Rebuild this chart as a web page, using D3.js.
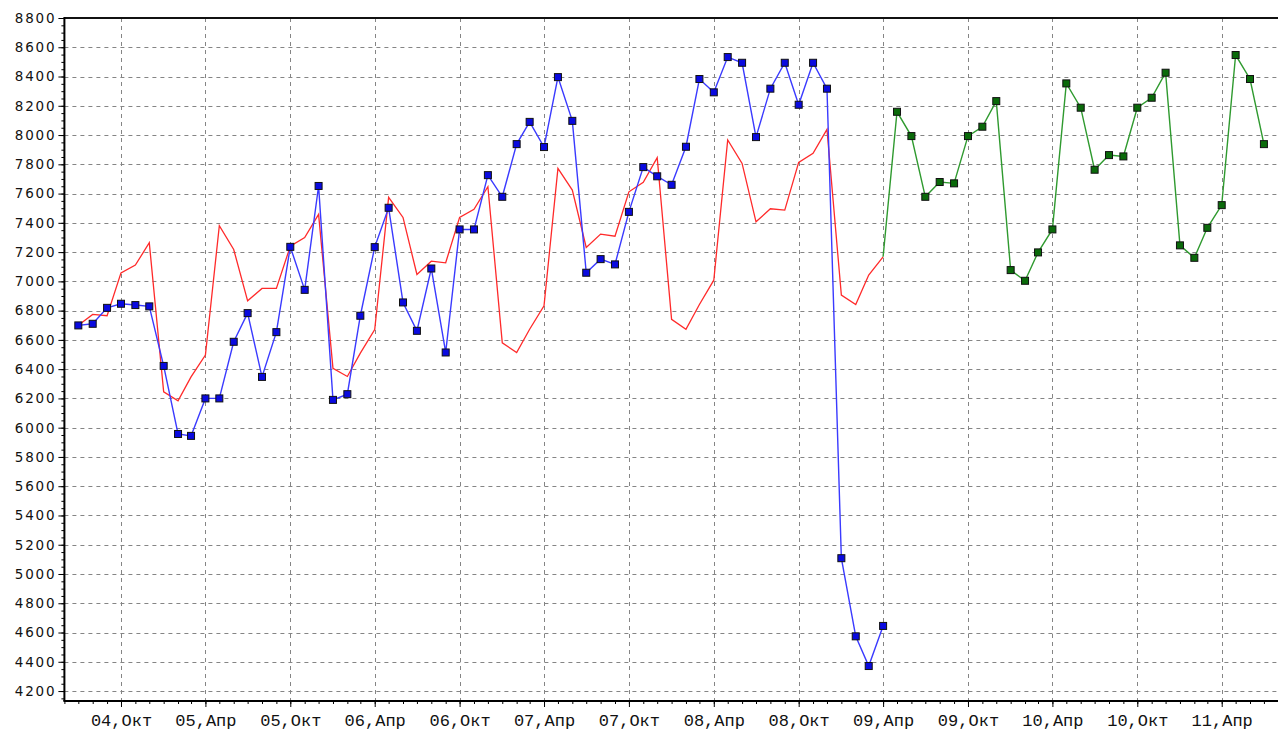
<!DOCTYPE html>
<html>
<head>
<meta charset="utf-8">
<script src="https://cdn.jsdelivr.net/npm/d3@7"></script>
<style>
  html, body { margin: 0; padding: 0; background: #fff; }
  svg { display: block; }
</style>
</head>
<body>
<div id="chart"></div>
<script>
// monthly values, first of month
var blueStart = [2004, 6];   // Jul 2004
var blueValues = [6699, 6710, 6819, 6847, 6838, 6829,
  6422, 5957, 5944, 6200, 6200, 6587, 6783, 6347, 6653, 7236, 6942, 7652,
  6190, 6229, 6765, 7234, 7503, 6856, 6662, 7088, 6514, 7355, 7355, 7726,
  7578, 7938, 8090, 7918, 8396, 8097, 7059, 7152, 7116, 7475, 7781, 7718,
  7660, 7920, 8383, 8292, 8533, 8494, 7986, 8317, 8494, 8207, 8494, 8317,
  5108, 4574, 4371, 4645];

var redStart = [2004, 6];    // Jul 2004
var redValues = [6700, 6774, 6765, 7058, 7111, 7264,
  6245, 6183, 6347, 6496, 7380, 7218, 6867, 6952, 6952, 7240, 7300, 7458,
  6405, 6350, 6510, 6670, 7574, 7437, 7047, 7138, 7127, 7437, 7492, 7647,
  6580, 6514, 6673, 6833, 7772, 7624, 7232, 7323, 7309, 7612, 7677, 7845,
  6740, 6673, 6842, 7008, 7966, 7806, 7407, 7496, 7487, 7813, 7875, 8039,
  6906, 6842, 7043, 7168];

var greenStart = [2009, 4];  // May 2009
var greenValues = [8159, 7993, 7578, 7679, 7670, 7993, 8057, 8232,
  7077, 7004, 7198, 7355, 8353, 8187, 7763, 7863, 7854, 8187, 8255, 8426,
  7246, 7161, 7366, 7521, 8547, 8383, 7938];

var monthNames = ["Янв", "Фев", "Мар", "Апр", "Май", "Июн", "Июл", "Авг", "Сен", "Окт", "Ноя", "Дек"];
var yTicks = d3.range(4200, 8801, 200);

function series(start, values) {
  return values.map(function(v, i) {
    return { date: new Date(start[0], start[1] + i, 1), value: v };
  });
}

var blue = series(blueStart, blueValues);
var red = series(redStart, redValues);
var green = series(greenStart, greenValues);

var width = 1278, height = 735;
var plotLeft = 64.4, plotTop = 18, plotBottom = 701;

var x = d3.scaleTime()
  .domain([new Date(2004, 5, 1), new Date(2011, 7, 1)])
  .range([plotLeft, 1278.3]);
var y = d3.scaleLinear()
  .domain([4132, 8800])
  .range([plotBottom, plotTop]);

var svg = d3.select("#chart").append("svg")
  .attr("width", width)
  .attr("height", height);

var months = d3.timeMonth.range(x.domain()[0], new Date(2011, 8, 1));
var tickDates = months.filter(function(d) { return d.getMonth() === 3 || d.getMonth() === 9; });

/* grid */
var grid = svg.append("g")
  .attr("stroke", "#858585")
  .attr("stroke-width", 1)
  .attr("stroke-dasharray", "4,4");
grid.selectAll(".hg").data(yTicks.filter(function(v) { return v < 8800; }))
  .enter().append("line")
  .attr("x1", plotLeft).attr("x2", width)
  .attr("y1", function(d) { return Math.round(y(d)) + 0.5; })
  .attr("y2", function(d) { return Math.round(y(d)) + 0.5; });
grid.selectAll(".vg").data(tickDates)
  .enter().append("line")
  .attr("x1", function(d) { return Math.round(x(d)) + 0.5; })
  .attr("x2", function(d) { return Math.round(x(d)) + 0.5; })
  .attr("y1", plotTop).attr("y2", plotBottom);

/* top border */
svg.append("line")
  .attr("x1", plotLeft).attr("x2", width)
  .attr("y1", plotTop).attr("y2", plotTop)
  .attr("stroke", "#111").attr("stroke-width", 2);

/* lines */
var line = d3.line()
  .x(function(d) { return x(d.date); })
  .y(function(d) { return y(d.value); });

svg.append("path").datum(red)
  .attr("fill", "none").attr("stroke", "#ff2a2a").attr("stroke-width", 1.3)
  .attr("d", line);

svg.append("path").datum(blue)
  .attr("fill", "none").attr("stroke", "#3a3aff").attr("stroke-width", 1.4)
  .attr("d", line);

// green continues from the last red point
svg.append("path").datum([red[red.length - 1]].concat(green))
  .attr("fill", "none").attr("stroke", "#2f9a2f").attr("stroke-width", 1.4)
  .attr("d", line);

function markers(data, fill) {
  svg.append("g").selectAll("rect").data(data)
    .enter().append("rect")
    .attr("x", function(d) { return x(d.date) - 3.5; })
    .attr("y", function(d) { return y(d.value) - 3.5; })
    .attr("width", 7).attr("height", 7)
    .attr("fill", fill)
    .attr("stroke", "#111")
    .attr("stroke-width", 1);
}
markers(blue, "#0a0ae0");
markers(green, "#0a6a0a");

/* y axis */
var yMinor = d3.axisLeft(y).tickValues(d3.range(4150, 8801, 50)).tickSize(3).tickFormat("");
svg.append("g").attr("transform", "translate(" + plotLeft + ",0)").call(yMinor)
  .call(function(g) { g.select(".domain").remove(); });

var yAxis = d3.axisLeft(y).tickValues(yTicks).tickSize(6).tickPadding(2).tickFormat(d3.format("d"));
var gy = svg.append("g").attr("transform", "translate(" + plotLeft + ",0)").call(yAxis);
gy.select(".domain").attr("stroke-width", 2).attr("d", "M0," + (plotTop - 1) + "V" + plotBottom);
gy.selectAll("text")
  .attr("font-family", "'DejaVu Sans', Verdana, sans-serif")
  .attr("font-size", 13.5)
  .attr("letter-spacing", "1.8px")
  .attr("fill", "#111");

/* x axis */
var xMinor = d3.axisBottom(x).tickValues(months).tickSize(3).tickFormat("");
svg.append("g").attr("transform", "translate(0," + plotBottom + ")").call(xMinor)
  .call(function(g) { g.select(".domain").remove(); });

var xAxis = d3.axisBottom(x).tickValues(tickDates).tickSize(6)
  .tickFormat(function(d) {
    return String(d.getFullYear() % 100).padStart(2, "0") + "," + monthNames[d.getMonth()];
  });
var gx = svg.append("g").attr("transform", "translate(0," + plotBottom + ")").call(xAxis);
gx.select(".domain").attr("stroke-width", 2).attr("d", "M" + (plotLeft - 1) + ",0H" + width);
gx.selectAll("text")
  .attr("y", 12.6)
  .attr("font-family", "'Liberation Mono', 'Courier New', monospace")
  .attr("font-size", 17)
  .attr("fill", "#111");
</script>
</body>
</html>
